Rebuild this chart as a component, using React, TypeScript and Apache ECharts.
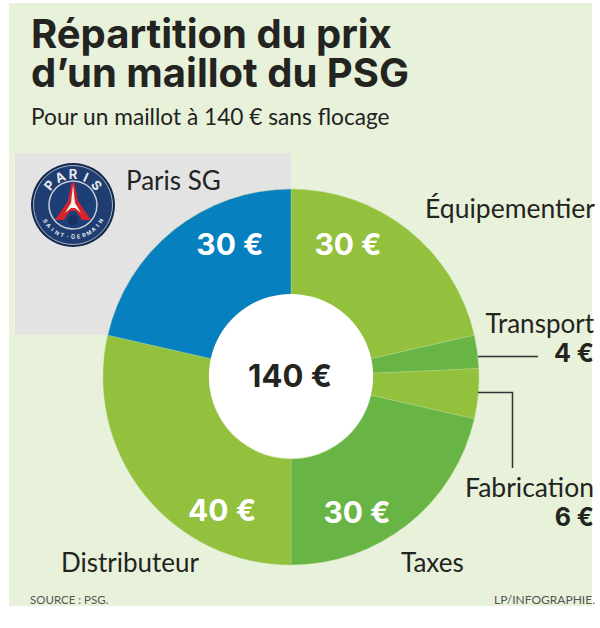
import React, { useEffect, useRef } from "react";
import * as echarts from "echarts";

const categories = ["Équipementier", "Transport", "Fabrication", "Taxes", "Distributeur", "Paris SG"];
const values = [30, 4, 6, 30, 40, 30];
const sliceColors = ["#93c13e", "#68b545", "#93c13e", "#68b545", "#93c13e", "#0780c0"];
const labelOffsets = [[-29, -25], null, null, [-20, 27], [39, 47], [25, -25]];
const TITLE = ["Répartition du prix", "d’un maillot du PSG"];
const SUBTITLE = "Pour un maillot à 140 € sans flocage";
const SOURCE = "SOURCE : PSG.";
const CREDIT = "LP/INFOGRAPHIE.";
const TOTAL = "140 €";
const FONT = "Lato";
const BOLD = "Inter";
const INK = "#23241f";

// y is the text baseline; the text is placed from its top
const t = (text: string, x: number, y: number, size: number, extra: any = {}) => ({
  type: "text",
  z: 10,
  style: {
    text,
    x,
    y: y - 0.9 * size,
    fill: extra.fill || INK,
    font: `${extra.weight || 400} ${size}px ${extra.family || FONT}`,
    textAlign: extra.align || "left",
    textVerticalAlign: "top",
  },
});

function arcLetters(text: string, cx: number, cy: number, r: number, startDeg: number, stepDeg: number, size: number, bottom = false) {
  return text.split("").map((ch, i) => {
    const a = ((startDeg + i * stepDeg) * Math.PI) / 180;
    const x = cx + r * Math.sin(a);
    const y = cy - r * Math.cos(a);
    return {
      type: "text",
      x,
      y,
      rotation: bottom ? -(a - Math.PI) : -a,
      z: 13,
      style: {
        text: ch,
        fill: "#e6e9ef",
        font: `700 ${size}px ${BOLD}`,
        textAlign: "center",
        textVerticalAlign: "middle",
      },
    };
  });
}

function logo(cx: number, cy: number) {
  const s = (z: number, r: number, fill: string, stroke?: string, lineWidth?: number) => ({
    type: "circle",
    z,
    shape: { cx, cy, r },
    style: { fill, stroke, lineWidth },
  });
  return [
    s(11, 42, "#13284f"),
    s(11, 39.5, "#1f3d70", "#aab1bd", 1),
    s(11, 24, "#1d3f78", "#c9ced6", 1.5),
    {
      type: "polygon",
      z: 12,
      shape: { points: [[cx - 1.5, cy - 22], [cx + 1.5, cy - 22], [cx + 5, cy - 4], [cx + 18, cy + 15], [cx + 9, cy + 15], [cx + 3, cy + 6], [cx - 3, cy + 6], [cx - 9, cy + 15], [cx - 18, cy + 15], [cx - 5, cy - 4]] },
      style: { fill: "#d6232c" },
    },
    {
      type: "polygon",
      z: 12,
      shape: { points: [[cx, cy - 20], [cx + 2, cy - 2], [cx + 8, cy + 8], [cx + 2, cy + 3], [cx - 2, cy + 3], [cx - 8, cy + 8], [cx - 2, cy - 2]] },
      style: { fill: "#f2f2f2" },
    },
    { type: "circle", z: 12, shape: { cx, cy: cy + 15, r: 5 }, style: { fill: "#16325f" } },
    ...arcLetters("PARIS", cx, cy, 31, -50, 25, 13),
    ...arcLetters("SAINT·GERMAIN", cx, cy, 32, 240, -10, 5.5, true),
  ];
}

export default function App() {
  const ref = useRef<HTMLDivElement>(null);
  useEffect(() => {
    const chart = echarts.init(ref.current!, null, { renderer: "svg" });
    const data = categories.map((name, i) => {
      const off = labelOffsets[i];
      return {
        name,
        value: values[i],
        itemStyle: { color: sliceColors[i] },
        label: off
          ? { show: true, position: "inside" as const, offset: off, formatter: `${values[i]} €`, color: "#fff", fontFamily: BOLD, fontWeight: 700, fontSize: 30 }
          : { show: false },
      };
    });
    chart.setOption({
      animation: false,
      backgroundColor: "#ffffff",
      graphic: [
        { type: "rect", z: -2, silent: true, shape: { x: 9, y: 3, width: 583, height: 603 }, style: { fill: "#e8f1da" } },
        { type: "rect", z: -1, silent: true, shape: { x: 15, y: 153, width: 276, height: 182 }, style: { fill: "#e3e3e3" } },
        t(TITLE[0], 31, 49, 40, { weight: 700, family: BOLD }),
        t(TITLE[1], 31, 88, 40, { weight: 700, family: BOLD }),
        t(SUBTITLE, 31, 125, 22.7),
        t(categories[5], 126, 190, 26),
        t(categories[0], 595, 218, 26.5, { align: "right" }),
        t(categories[1], 594, 333, 26, { align: "right" }),
        t(`${values[1]} €`, 594, 363, 25, { align: "right", weight: 700, family: BOLD }),
        t(categories[2], 594, 497, 26.5, { align: "right" }),
        t(`${values[2]} €`, 594, 527, 25, { align: "right", weight: 700, family: BOLD }),
        t(categories[3], 401, 572, 26),
        t(categories[4], 61, 572, 26),
        t(SOURCE, 30, 604, 11.5, { fill: "#555" }),
        t(CREDIT, 595, 604, 12, { align: "right", fill: "#555" }),
        t(TOTAL, 290, 388, 31, { align: "center", weight: 700, family: BOLD }),
        { type: "polyline", z: 10, shape: { points: [[478, 356.5], [538, 356.5]] }, style: { stroke: "#333", lineWidth: 1.5, fill: "none" } },
        { type: "polyline", z: 10, shape: { points: [[478, 392.5], [512.5, 392.5], [512.5, 468]] }, style: { stroke: "#333", lineWidth: 1.5, fill: "none" } },
        ...logo(73, 205),
      ],
      series: [
        {
          type: "pie",
          center: [291, 377],
          radius: [82, 188],
          startAngle: 90,
          clockwise: true,
          silent: true,
          labelLine: { show: false },
          itemStyle: { borderColor: "#b7d88a", borderWidth: 0.4 },
          data,
        },
        {
          type: "pie",
          center: [291, 376],
          radius: [0, 82],
          silent: true,
          label: { show: false },
          labelLine: { show: false },
          itemStyle: { color: "#ffffff" },
          data: [{ name: "centre", value: 1 }],
        },
      ],
    });
    return () => chart.dispose();
  }, []);
  return <div ref={ref} style={{ position: "absolute", left: 0, top: 0, width: 600, height: 628 }} />;
}
